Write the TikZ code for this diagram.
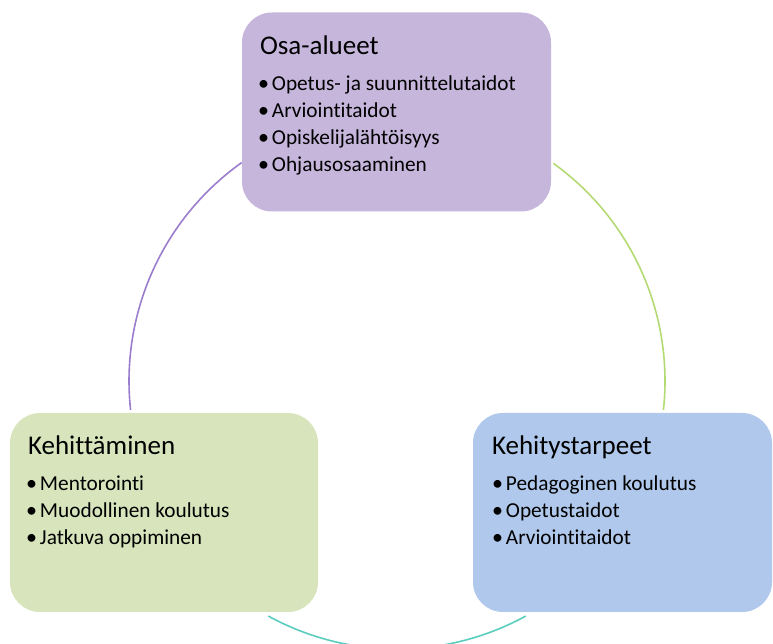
\documentclass[tikz,border=0pt]{standalone}
\usepackage{fontspec}
\setmainfont{Carlito}[Ligatures={NoCommon}]
\usetikzlibrary{calc}
\definecolor{boxpurple}{RGB}{198,182,220}
\definecolor{boxgreen}{RGB}{215,228,188}
\definecolor{boxblue}{RGB}{175,200,235}
\definecolor{arcpurple}{RGB}{155,125,205}
\definecolor{arcgreen}{RGB}{180,218,115}
\definecolor{arcteal}{RGB}{90,205,190}
\newcommand{\bul}{{\fontsize{22}{22}\selectfont\textbullet}\hspace{3pt}}
\tikzset{
  box/.style={draw=none, rounded corners=30pt, minimum height=199pt, inner sep=0pt},
  titletext/.style={font=\fontsize{27}{30}\selectfont, anchor=base west, inner sep=0pt, text=black},
  itemtext/.style={font=\fontsize{21.3}{24}\selectfont, anchor=base west, inner sep=0pt, text=black},
  ringarc/.style={line width=1.6pt}
}
\begin{document}
\begin{tikzpicture}[x=1pt,y=1pt]
\useasboundingbox (0,0) rectangle (773,644);
% ring
\coordinate (C) at (397,263);
\coordinate (a1) at ($(C)+(125.4:268)$);
\coordinate (a2) at ($(C)+(54.3:268)$);
\coordinate (a3) at ($(C)+(241.3:268)$);
\draw[ringarc, arcpurple] (a1) arc[start angle=125.4, end angle=186.2, radius=268];
\draw[ringarc, arcgreen] (a2) arc[start angle=54.3, end angle=-6.2, radius=268];
\draw[ringarc, arcteal] (a3) arc[start angle=241.3, end angle=298.7, radius=268];
% boxes
\node[box, fill=boxpurple, minimum width=309pt] (top) at (396.5,532) {};
\node[box, fill=boxgreen, minimum width=308pt] (left) at (164,131.5) {};
\node[box, fill=boxblue, minimum width=299pt] (right) at (622.5,131.5) {};
% top text
\node[titletext] (t1) at ($(top.north west)+(18,-42)$) {Osa-alueet};
\node[itemtext] (t1a) at ($(top.north west)+(16,-78)$) {\bul Opetus- ja suunnittelutaidot};
\node[itemtext] (t1b) at ($(top.north west)+(16,-105)$) {\bul Arviointitaidot};
\node[itemtext] (t1c) at ($(top.north west)+(16,-132)$) {\bul Opiskelijalähtöisyys};
\node[itemtext] (t1d) at ($(top.north west)+(16,-159)$) {\bul Ohjausosaaminen};
% left text
\node[titletext] (t2) at ($(left.north west)+(18,-42)$) {Kehittäminen};
\node[itemtext] (t2a) at ($(left.north west)+(16,-78)$) {\bul Mentorointi};
\node[itemtext] (t2b) at ($(left.north west)+(16,-105)$) {\bul Muodollinen koulutus};
\node[itemtext] (t2c) at ($(left.north west)+(16,-132)$) {\bul Jatkuva oppiminen};
% right text
\node[titletext] (t3) at ($(right.north west)+(19,-42)$) {Kehitystarpeet};
\node[itemtext] (t3a) at ($(right.north west)+(19,-78)$) {\bul Pedagoginen koulutus};
\node[itemtext] (t3b) at ($(right.north west)+(19,-105)$) {\bul Opetustaidot};
\node[itemtext] (t3c) at ($(right.north west)+(19,-132)$) {\bul Arviointitaidot};
\end{tikzpicture}
\end{document}
